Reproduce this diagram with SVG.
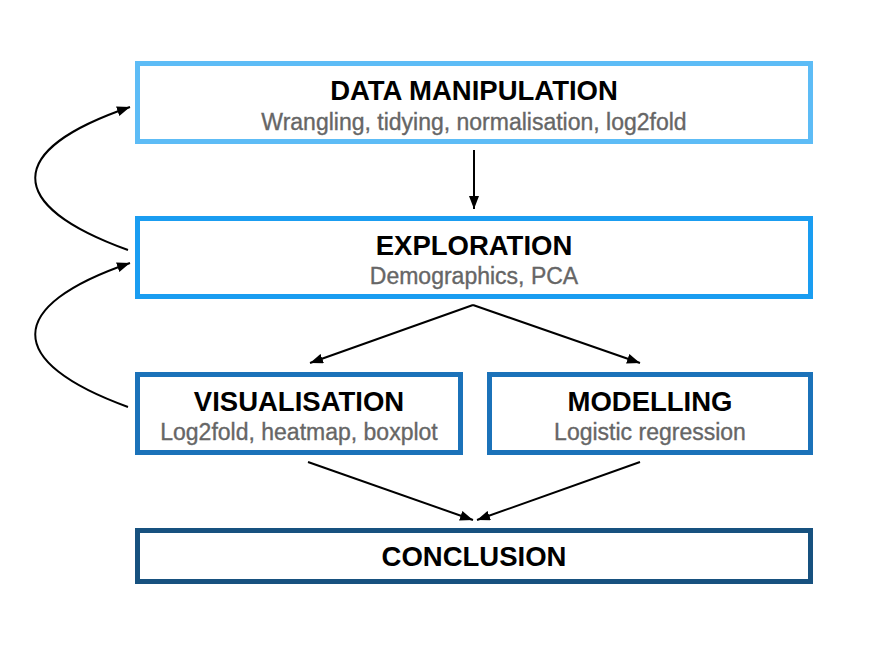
<svg xmlns="http://www.w3.org/2000/svg" width="895" height="669" viewBox="0 0 895 669">
<style>
.box{fill:#fff;stroke-width:5}
.t{font-family:"Liberation Sans",Arial,sans-serif;font-weight:bold;font-size:27.5px;fill:#000;text-anchor:middle}
.s{font-family:"Liberation Sans",Arial,sans-serif;font-size:23px;fill:#666;stroke:#666;stroke-width:0.35;text-anchor:middle}
.c{fill:none;stroke:#000;stroke-width:2;marker-end:url(#ah)}
</style>
<defs>
<marker id="ah" markerUnits="userSpaceOnUse" markerWidth="13" markerHeight="10" refX="13" refY="5" orient="auto">
<path d="M0,0 L13,5 L0,10 z" fill="#000"/>
</marker>
</defs>
<rect width="895" height="669" fill="#fff"/>
<g id="data-manipulation">
<rect class="box" x="137.5" y="63.5" width="673" height="78" stroke="#5DBCF6"/>
<text class="t" x="474" y="100">DATA MANIPULATION</text>
<text class="s" x="474" y="130">Wrangling, tidying, normalisation, log2fold</text>
</g>
<g id="exploration">
<rect class="box" x="137.5" y="218.5" width="673" height="78" stroke="#1A9DF1"/>
<text class="t" x="474" y="255">EXPLORATION</text>
<text class="s" x="474" y="284">Demographics, PCA</text>
</g>
<g id="visualisation">
<rect class="box" x="137.5" y="374.5" width="323" height="78" stroke="#1B72B9"/>
<text class="t" x="299" y="411">VISUALISATION</text>
<text class="s" x="299" y="440">Log2fold, heatmap, boxplot</text>
</g>
<g id="modelling">
<rect class="box" x="489.5" y="374.5" width="321" height="78" stroke="#1B72B9"/>
<text class="t" x="650" y="411">MODELLING</text>
<text class="s" x="650" y="440">Logistic regression</text>
</g>
<g id="conclusion">
<rect class="box" x="137.5" y="530.5" width="673" height="51" stroke="#17517F"/>
<text class="t" x="474" y="566">CONCLUSION</text>
</g>
<g id="connectors">
<path class="c" d="M474,150 L474,209"/>
<path class="c" d="M473,305 L310,363"/>
<path class="c" d="M473,305 L640,363"/>
<path class="c" d="M308,462 L473,520"/>
<path class="c" d="M640,462 L477,520"/>
<path class="c" d="M128,250 C4,205 4,150 130,107"/>
<path class="c" d="M128,407 C4,362 4,306 130,263"/>
</g>
</svg>
